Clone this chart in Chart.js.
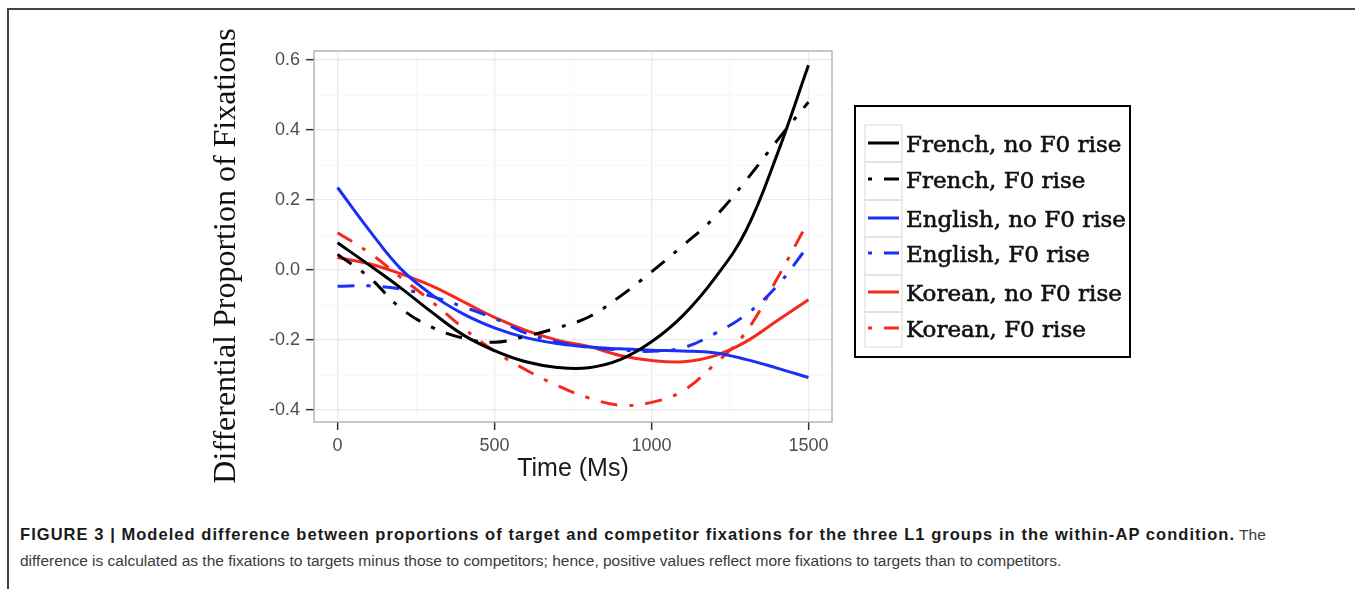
<!DOCTYPE html>
<html>
<head>
<meta charset="utf-8">
<script src="https://cdn.jsdelivr.net/npm/chart.js@4.4.0/dist/chart.umd.min.js"></script>
<style>
  body { margin:0; width:1355px; height:589px; background:#fff; overflow:hidden; position:relative; font-family:"Liberation Sans", Arial, sans-serif; }
  #frame { position:absolute; left:7px; top:8px; right:0; bottom:0; border-top:2px solid #444; border-left:2px solid #444; }
  #wrap { position:absolute; left:0; top:0; width:1355px; height:500px; }
  #caption { position:absolute; left:20px; top:521px; font-size:15.5px; line-height:26px; color:#3a3a3a; white-space:nowrap; }
  #caption b { color:#1a1a1a; font-size:16.5px; letter-spacing:1.05px; }
</style>
</head>
<body>
<div id="frame"></div>
<div id="wrap"><canvas id="myChart" width="1355" height="500"></canvas></div>
<div id="caption"><b>FIGURE 3 | Modeled difference between proportions of target and competitor fixations for the three L1 groups in the within-AP condition.</b> The<br>difference is calculated as the fixations to targets minus those to competitors; hence, positive values reflect more fixations to targets than to competitors.</div>
<script>
// time axis (ms) and the six modeled curves
var timeMs = [0, 100, 200, 300, 400, 500, 600, 700, 800, 900, 1000, 1100, 1200, 1300, 1400, 1500];
var frenchNoRise  = [0.078, 0.015, -0.05, -0.12, -0.185, -0.23, -0.262, -0.278, -0.279, -0.256, -0.205, -0.13, -0.025, 0.111, 0.33, 0.585];
var frenchRise    = [0.045, -0.02, -0.108, -0.163, -0.194, -0.206, -0.189, -0.165, -0.134, -0.075, -0.005, 0.07, 0.15, 0.255, 0.37, 0.48];
var englishNoRise = [0.236, 0.115, 0.005, -0.07, -0.125, -0.165, -0.193, -0.21, -0.22, -0.225, -0.229, -0.231, -0.236, -0.255, -0.28, -0.307];
var englishRise   = [-0.046, -0.045, -0.054, -0.075, -0.105, -0.138, -0.18, -0.205, -0.22, -0.228, -0.232, -0.222, -0.182, -0.128, -0.045, 0.07];
var koreanNoRise  = [0.036, 0.018, -0.01, -0.045, -0.09, -0.135, -0.172, -0.2, -0.218, -0.244, -0.258, -0.262, -0.245, -0.205, -0.145, -0.085];
var koreanRise    = [0.107, 0.05, -0.02, -0.09, -0.165, -0.232, -0.285, -0.33, -0.365, -0.386, -0.378, -0.345, -0.27, -0.178, -0.025, 0.14];

var seriesNames = ["French, no F0 rise", "French, F0 rise", "English, no F0 rise", "English, F0 rise", "Korean, no F0 rise", "Korean, F0 rise"];

var xMajor = [0, 500, 1000, 1500];
var xMinor = [250, 750, 1250];
var yMajor = [-0.4, -0.2, 0, 0.2, 0.4, 0.6];
var yMinor = [-0.3, -0.1, 0.1, 0.3, 0.5];

var BLACK = "#000000", BLUE = "#1b30f5", RED = "#f42a1f";
var DOTDASH = [17, 12, 4, 12];

function pts(arr) {
  return timeMs.map(function(t, i) { return {x: t, y: arr[i]}; });
}
function isMajor(list, v) {
  return list.some(function(m) { return Math.abs(m - v) < 1e-9; });
}
function makeSet(label, arr, color, dash) {
  return {
    label: label, data: pts(arr), borderColor: color, backgroundColor: color,
    borderWidth: 3, borderDash: dash, pointRadius: 0, fill: false,
    tension: 0.4
  };
}

var decor = {
  id: "decor",
  afterDraw: function(chart) {
    var c = chart.ctx, xs = chart.scales.x, ys = chart.scales.y;
    c.save();
    // panel border, from the scales' own range
    var l = xs.getPixelForValue(xs.min), r = xs.getPixelForValue(xs.max);
    var t = ys.getPixelForValue(ys.max), b = ys.getPixelForValue(ys.min);
    c.strokeStyle = "#ababab";
    c.lineWidth = 1.3;
    c.setLineDash([]);
    c.strokeRect(l, t, r - l, b - t);

    // y axis title
    c.save();
    c.translate(227, 256);
    c.rotate(-Math.PI / 2);
    c.font = '32px "Liberation Serif", serif';
    c.fillStyle = "#111";
    c.textAlign = "center";
    c.textBaseline = "middle";
    c.fillText("Differential Proportion of Fixations", 0, 0);
    c.restore();

    // legend
    c.strokeStyle = "#000";
    c.lineWidth = 2;
    c.strokeRect(855, 106, 275, 251);
    var cells = [125, 162, 200, 237, 275, 312, 347];
    var lineY = [143, 179, 218, 253, 292, 328];
    chart.data.datasets.forEach(function(ds, i) {
      c.strokeStyle = "#dadada";
      c.lineWidth = 1;
      c.setLineDash([]);
      c.strokeRect(865, cells[i], 37, cells[i + 1] - cells[i]);
      c.strokeStyle = ds.borderColor;
      c.lineWidth = 3;
      c.setLineDash(ds.borderDash || []);
      c.lineDashOffset = ds.borderDash && ds.borderDash.length ? 29 : 0;
      c.beginPath();
      c.moveTo(868, lineY[i]);
      c.lineTo(899, lineY[i]);
      c.stroke();
      c.setLineDash([]);
      c.lineDashOffset = 0;
      c.fillStyle = "#111";
      c.strokeStyle = "#111";
      c.lineWidth = 0.6;
      c.font = '23px "DejaVu Serif", serif';
      c.textAlign = "left";
      c.textBaseline = "middle";
      c.fillText(ds.label, 906, lineY[i] + 3);
      c.strokeText(ds.label, 906, lineY[i] + 3);
    });
    c.restore();
  }
};

var ctx = document.getElementById("myChart").getContext("2d");
var myChart = new Chart(ctx, {
  type: "line",
  data: {
    datasets: [
      makeSet(seriesNames[0], frenchNoRise, BLACK, []),
      makeSet(seriesNames[1], frenchRise, BLACK, DOTDASH),
      makeSet(seriesNames[2], englishNoRise, BLUE, []),
      makeSet(seriesNames[3], englishRise, BLUE, DOTDASH),
      makeSet(seriesNames[4], koreanNoRise, RED, []),
      makeSet(seriesNames[5], koreanRise, RED, DOTDASH)
    ]
  },
  options: {
    responsive: false,
    animation: false,
    layout: { padding: { left: 200, top: 51, right: 523, bottom: 16 } },
    plugins: { legend: { display: false }, tooltip: { enabled: false } },
    scales: {
      x: {
        type: "linear", min: -75, max: 1575,
        afterBuildTicks: function(scale) {
          scale.ticks = xMinor.concat(xMajor).sort(function(a, b) { return a - b; }).map(function(v) { return {value: v}; });
        },
        afterFit: function(scale) { scale.height = 62; },
        ticks: {
          autoSkip: false, maxRotation: 0, padding: 5, color: "#4d4d4d",
          font: { family: "Liberation Sans", size: 18 },
          callback: function(v) { return isMajor(xMajor, v) ? String(v) : ""; }
        },
        grid: {
          color: function(c) { return c.tick && isMajor(xMajor, c.tick.value) ? "#ebebeb" : "#f5f5f5"; },
          lineWidth: function(c) { return c.tick && isMajor(xMajor, c.tick.value) ? 1.3 : 0.7; },
          tickColor: function(c) { return c.tick && isMajor(xMajor, c.tick.value) ? "#333" : "rgba(0,0,0,0)"; },
          tickLength: 8, tickWidth: 1.5
        },
        border: { display: false },
        title: { display: true, text: "Time (Ms)", color: "#1a1a1a", padding: 0, font: { family: "Liberation Sans", size: 25 } }
      },
      y: {
        type: "linear", min: -0.434, max: 0.626,
        afterBuildTicks: function(scale) {
          scale.ticks = yMinor.concat(yMajor).sort(function(a, b) { return a - b; }).map(function(v) { return {value: v}; });
        },
        afterFit: function(scale) { scale.width = 114; },
        ticks: {
          autoSkip: false, padding: 6, color: "#4d4d4d",
          font: { family: "Liberation Sans", size: 18 },
          callback: function(v) { return isMajor(yMajor, v) ? v.toFixed(1) : ""; }
        },
        grid: {
          color: function(c) { return c.tick && isMajor(yMajor, c.tick.value) ? "#ebebeb" : "#f5f5f5"; },
          lineWidth: function(c) { return c.tick && isMajor(yMajor, c.tick.value) ? 1.3 : 0.7; },
          tickColor: function(c) { return c.tick && isMajor(yMajor, c.tick.value) ? "#333" : "rgba(0,0,0,0)"; },
          tickLength: 8, tickWidth: 1.5
        },
        border: { display: false }
      }
    }
  },
  plugins: [decor]
});
</script>
</body>
</html>
